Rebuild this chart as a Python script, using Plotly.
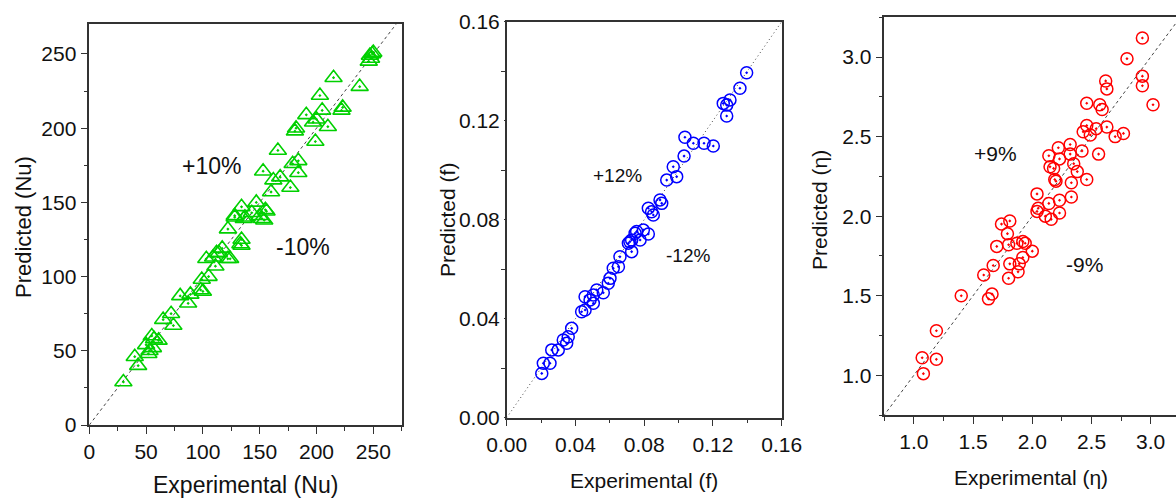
import plotly.graph_objects as go

# ---- Nusselt number: experimental vs predicted ----
nu_exp = [30, 43, 40, 50, 53, 52, 55, 57, 61, 56, 65, 72, 74, 80, 87, 89, 98, 99, 100,
          105, 103, 109, 111, 112, 114, 117, 122, 124, 122, 128, 128, 133, 134, 134, 134,
          136, 137, 143, 147, 150, 152, 155, 156, 154, 153, 160, 162, 168, 166, 177, 179,
          184, 184, 182, 181, 191, 197, 199, 200, 203, 205, 210, 215, 222, 223, 238, 246,
          247, 248, 250, 249]
nu_pred = [29, 40, 46, 54, 50, 48, 60, 58, 57, 52, 71, 75, 67, 87, 82, 88, 91, 98, 90,
           100, 112, 113, 107, 116, 116, 119, 112, 112, 132, 141, 140, 122, 125, 121, 147,
           139, 140, 143, 150, 141, 139, 145, 144, 138, 171, 157, 165, 167, 185, 160, 176,
           178, 170, 200, 198, 209, 204, 191, 206, 222, 212, 201, 234, 212, 214, 228, 245,
           249, 247, 251, 250]

# ---- Friction factor: experimental vs predicted ----
f_exp = [0.0204, 0.0213, 0.0252, 0.0262, 0.0300, 0.0329, 0.0349, 0.0358, 0.0378, 0.0436,
         0.0456, 0.0456, 0.0485, 0.0504, 0.0504, 0.0524, 0.0562, 0.0591, 0.0601, 0.0620,
         0.0650, 0.0659, 0.0708, 0.0717, 0.0727, 0.0727, 0.0747, 0.0756, 0.0776, 0.0795,
         0.0824, 0.0824, 0.0843, 0.0853, 0.0892, 0.0902, 0.0931, 0.0969, 0.0989, 0.1032,
         0.1037, 0.1086, 0.1148, 0.1202, 0.1280, 0.1260, 0.1280, 0.1299, 0.1357, 0.1396]
f_pred = [0.0179, 0.0220, 0.0220, 0.0274, 0.0274, 0.0314, 0.0301, 0.0327, 0.0361, 0.0428,
          0.0435, 0.0489, 0.0476, 0.0496, 0.0462, 0.0516, 0.0505, 0.0543, 0.0563, 0.0604,
          0.0610, 0.0650, 0.0705, 0.0711, 0.0671, 0.0718, 0.0745, 0.0752, 0.0718, 0.0758,
          0.0742, 0.0846, 0.0832, 0.0819, 0.0880, 0.0866, 0.0960, 0.1014, 0.0974, 0.1057,
          0.1133, 0.1109, 0.1109, 0.1098, 0.1219, 0.1270, 0.1263, 0.1284, 0.1331, 0.1394]

# ---- Thermal performance factor: experimental vs predicted ----
eta_exp = [1.08, 1.07, 1.19, 1.19, 1.40, 1.63, 1.66, 1.59, 1.67, 1.70, 1.74, 1.81, 1.79,
           1.80, 1.81, 1.80, 1.88, 1.89, 1.92, 1.94, 1.92, 2.00, 1.87, 2.04, 2.05, 2.04,
           2.11, 2.14, 2.16, 2.23, 2.23, 2.33, 2.14, 2.15, 2.18, 2.22, 2.23, 2.19, 2.20,
           2.32, 2.32, 2.35, 2.38, 2.33, 2.42, 2.46, 2.43, 2.46, 2.49, 2.56, 2.54, 2.63,
           2.70, 2.77, 2.46, 2.57, 2.59, 2.62, 2.63, 2.80, 2.93, 2.93, 2.93, 3.02]
eta_pred = [1.01, 1.11, 1.10, 1.28, 1.50, 1.48, 1.51, 1.63, 1.69, 1.81, 1.95, 1.97, 1.89,
            1.82, 1.70, 1.61, 1.65, 1.70, 1.74, 1.83, 1.84, 1.78, 1.83, 2.14, 2.05, 2.03,
            2.00, 2.08, 1.98, 2.02, 2.10, 2.12, 2.38, 2.31, 2.30, 2.43, 2.36, 2.23, 2.22,
            2.45, 2.39, 2.33, 2.28, 2.21, 2.41, 2.23, 2.53, 2.57, 2.51, 2.39, 2.55, 2.56,
            2.50, 2.52, 2.71, 2.70, 2.67, 2.85, 2.80, 2.99, 3.12, 2.88, 2.82, 2.70]

nu_range = [0, 275]
nu_yrange = [0, 270]
f_range = [0, 0.16]
eta_xrange = [0.75, 3.214]
eta_yrange = [0.75, 3.25]

FONT = "Liberation Sans, Arial, sans-serif"
AXIS_COLOR = "#333333"
TEXT_COLOR = "#111111"
W, H = 1176, 501

fig = go.Figure()

# 1:1 reference lines
fig.add_trace(go.Scatter(x=[0, 300], y=[0, 300], mode="lines", xaxis="x", yaxis="y",
                         line=dict(color="#444444", width=1, dash="3px,3px"),
                         showlegend=False, hoverinfo="skip"))
fig.add_trace(go.Scatter(x=[0, 0.2], y=[0, 0.2], mode="lines", xaxis="x2", yaxis="y2",
                         line=dict(color="#444444", width=1, dash="1px,3px"),
                         showlegend=False, hoverinfo="skip"))
fig.add_trace(go.Scatter(x=[0.5, 3.5], y=[0.5, 3.5], mode="lines", xaxis="x3", yaxis="y3",
                         line=dict(color="#444444", width=1, dash="3px,3px"),
                         showlegend=False, hoverinfo="skip"))

# scatter series
fig.add_trace(go.Scatter(x=nu_exp, y=nu_pred, mode="markers", xaxis="x", yaxis="y",
                         marker=dict(symbol="triangle-up-open-dot", size=15, color="#00d000",
                                     line=dict(width=1.6, color="#00d000")),
                         showlegend=False))
fig.add_trace(go.Scatter(x=f_exp, y=f_pred, mode="markers", xaxis="x2", yaxis="y2",
                         marker=dict(symbol="circle-open-dot", size=12, color="#0000ff",
                                     line=dict(width=1.5, color="#0000ff")),
                         showlegend=False))
fig.add_trace(go.Scatter(x=eta_exp, y=eta_pred, mode="markers", xaxis="x3", yaxis="y3",
                         marker=dict(symbol="circle-open-dot", size=12, color="#ff0000",
                                     line=dict(width=1.5, color="#ff0000")),
                         showlegend=False))


def axis(domain, rng, dtick, minor_dtick, anchor, fmt=None, mirror=True,
         tick_size=21, ticklen=7):
    d = dict(domain=domain, range=rng, anchor=anchor, showgrid=False, zeroline=False,
             automargin=False,
             showline=True, linecolor=AXIS_COLOR, linewidth=1.5, mirror=mirror,
             ticks="outside", ticklen=ticklen, tickwidth=1.3, tickcolor=AXIS_COLOR,
             dtick=dtick, tick0=0,
             tickfont=dict(family=FONT, size=tick_size, color=TEXT_COLOR),
             minor=dict(ticks="outside", ticklen=4, tickwidth=1.3, tickcolor=AXIS_COLOR,
                        dtick=minor_dtick, tick0=0, showgrid=False))
    if fmt is not None:
        d["tickformat"] = fmt
    return d


def px_x(a, b):
    return [a / W, b / W]


def px_y(top, bottom):
    return [1 - bottom / H, 1 - top / H]


fig.update_layout(
    width=W, height=H, margin=dict(l=0, r=0, t=0, b=0),
    paper_bgcolor="white", plot_bgcolor="white",
    font=dict(family=FONT, color=TEXT_COLOR),
    xaxis=axis(px_x(89.3, 401.7), nu_range, 50, 25, "y"),
    yaxis=axis(px_y(24.3, 425), nu_yrange, 50, 25, "x"),
    xaxis2=axis(px_x(506.7, 781.7), f_range, 0.04, 0.02, "y2", fmt=".2f"),
    yaxis2=axis(px_y(21.7, 417.7), f_range, 0.04, 0.02, "x2", fmt=".2f", ticklen=1),
    xaxis3=axis(px_x(884.3, 1176), eta_xrange, 0.5, 0.25, "y3", fmt=".1f"),
    yaxis3=axis(px_y(17.3, 415), eta_yrange, 0.5, 0.25, "x3", fmt=".1f", mirror=False),
)

# axis titles (pixel centres), rotated for the vertical axes
titles = [
    (245.5, 485, "Experimental (Nu)", 23, 0),
    (23, 227, "Predicted (Nu)", 22, -90),
    (644, 480, "Experimental (f)", 21, 0),
    (447, 220, "Predicted (f)", 21, -90),
    (1031, 477, "Experimental (\u03b7)", 21, 0),
    (819, 210, "Predicted (\u03b7)", 21, -90),
]
for x, y, txt, size, ang in titles:
    fig.add_annotation(xref="paper", yref="paper", x=x / W, y=1 - y / H, text=txt,
                       showarrow=False, textangle=ang, xanchor="center", yanchor="middle",
                       font=dict(family=FONT, size=size, color=TEXT_COLOR))

# error-band labels
labels = [
    ("x", "y", 108, 174.5, "+10%", 23),
    ("x", "y", 188, 120, "-10%", 23),
    ("x2", "y2", 0.0645, 0.098, "+12%", 19),
    ("x2", "y2", 0.1055, 0.0657, "-12%", 19),
    ("x3", "y3", 1.693, 2.394, "+9%", 21),
    ("x3", "y3", 2.437, 1.695, "-9%", 21),
]
for xr, yr, x, y, txt, size in labels:
    fig.add_annotation(xref=xr, yref=yr, x=x, y=y, text=txt, showarrow=False,
                       font=dict(family=FONT, size=size, color=TEXT_COLOR))

fig.write_html("out.html")
